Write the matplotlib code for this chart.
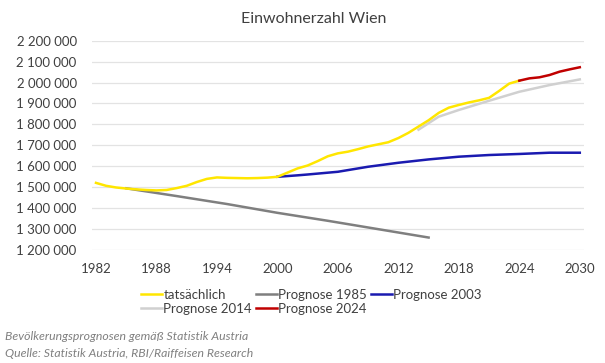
import matplotlib
matplotlib.use("Agg")
import matplotlib.pyplot as plt
from matplotlib.ticker import FuncFormatter

plt.rcParams['font.family'] = ['Lato', 'DejaVu Sans']

# Einwohnerzahl Wien (tatsächlich)
years_actual = list(range(1982, 2025))
actual = [1521000, 1507000, 1499000, 1494000, 1490000, 1487000, 1485000, 1487000,
          1496000, 1507000, 1525000, 1540000, 1547000, 1545000, 1544000, 1543000,
          1544000, 1546000, 1550000, 1570000, 1590000, 1604000, 1625000, 1648000,
          1662000, 1670000, 1682000, 1695000, 1705000, 1715000, 1735000, 1760000,
          1790000, 1820000, 1855000, 1880000, 1893000, 1905000, 1915000, 1927000,
          1960000, 1995000, 2009000]

# Prognosen
years_p1985 = [1985, 1990, 1995, 2000, 2005, 2010, 2015]
p1985 = [1495000, 1458000, 1420000, 1378000, 1340000, 1300000, 1260000]

years_p2003 = [2000, 2002, 2003, 2006, 2009, 2012, 2015, 2018, 2021, 2024, 2027, 2030]
p2003 = [1550000, 1557000, 1561000, 1574000, 1598000, 1617000, 1633000, 1646000,
         1654000, 1659000, 1665000, 1665000]

years_p2014 = [2014, 2016, 2018, 2021, 2024, 2027, 2030]
p2014 = [1775000, 1837000, 1869000, 1913000, 1956000, 1988000, 2015000]

years_p2024 = [2024, 2025, 2026, 2027, 2028, 2029, 2030]
p2024 = [2009000, 2020000, 2025000, 2036000, 2052000, 2063000, 2073000]

xticks = [1982, 1988, 1994, 2000, 2006, 2012, 2018, 2024, 2030]
yticks = list(range(1200000, 2200001, 100000))

fig = plt.figure(figsize=(6.05, 3.63), dpi=100)
ax = fig.add_axes([0.152, 0.311, 0.813, 0.577])

lw = 1.8
l_act, = ax.plot(years_actual, actual, color='#FFE600', lw=lw, label='tatsächlich', zorder=4)
l_85, = ax.plot(years_p1985, p1985, color='#7F7F7F', lw=lw, label='Prognose 1985', zorder=3)
l_03, = ax.plot(years_p2003, p2003, color='#1A1AB0', lw=lw, label='Prognose 2003', zorder=3)
l_14, = ax.plot(years_p2014, p2014, color='#D0D0D0', lw=lw, label='Prognose 2014', zorder=2)
l_24, = ax.plot(years_p2024, p2024, color='#C00000', lw=lw, label='Prognose 2024', zorder=5)

ax.set_xlim(1981.6, 2030.4)
ax.set_ylim(1200000, 2200000)
ax.set_xticks(xticks)
ax.set_yticks(yticks)
ax.yaxis.set_major_formatter(FuncFormatter(lambda v, p: f"{int(v):,}".replace(",", " ")))
ax.tick_params(axis='both', length=0, labelsize=9.5, colors='#404040')
ax.tick_params(axis='x', pad=9)
ax.tick_params(axis='y', pad=11)
ax.grid(axis='y', color='#E3E3E3', lw=0.9)
ax.set_axisbelow(True)
for s in ax.spines.values():
    s.set_visible(False)

fig.text(0.518, 0.948, 'Einwohnerzahl Wien', ha='center', va='center',
         fontsize=11.5, color='#404040')

fig.legend(handles=[l_act, l_14, l_85, l_24, l_03], ncol=3,
           loc='upper left', bbox_to_anchor=(0.222, 0.222),
           frameon=False, fontsize=9.5, handlelength=1.6, handletextpad=0.1,
           columnspacing=0.3, labelspacing=0.15, borderpad=0, labelcolor='#404040')

fig.text(0.008, 0.072, 'Bevölkerungsprognosen gemäß Statistik Austria',
         fontsize=8.8, style='italic', color='#808080', va='center')
fig.text(0.008, 0.025, 'Quelle: Statistik Austria, RBI/Raiffeisen Research',
         fontsize=8.8, style='italic', color='#808080', va='center')

fig.savefig('out.png', dpi=100)
